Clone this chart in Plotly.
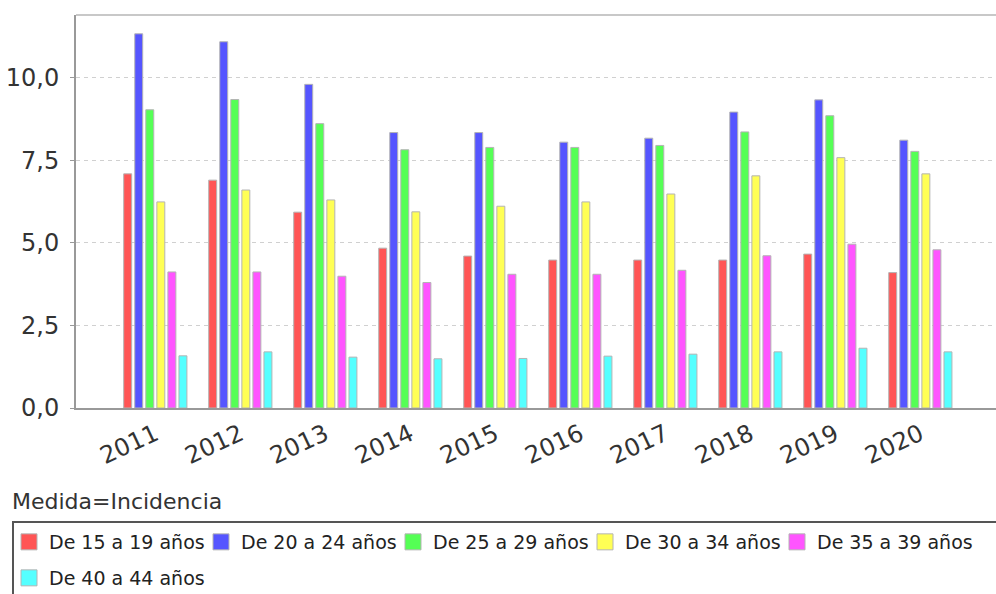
import plotly.graph_objects as go

years = ["2011", "2012", "2013", "2014", "2015", "2016", "2017", "2018", "2019", "2020"]
series_names = ["De 15 a 19 años", "De 20 a 24 años", "De 25 a 29 años",
                "De 30 a 34 años", "De 35 a 39 años", "De 40 a 44 años"]
v15_19 = [7.09, 6.90, 5.93, 4.84, 4.60, 4.48, 4.48, 4.48, 4.66, 4.10]
v20_24 = [11.33, 11.09, 9.80, 8.34, 8.34, 8.05, 8.17, 8.96, 9.33, 8.11]
v25_29 = [9.03, 9.34, 8.61, 7.82, 7.89, 7.89, 7.95, 8.36, 8.85, 7.77]
v30_34 = [6.24, 6.60, 6.30, 5.94, 6.11, 6.24, 6.48, 7.03, 7.58, 7.09]
v35_39 = [4.12, 4.12, 3.99, 3.80, 4.05, 4.05, 4.17, 4.61, 4.96, 4.79]
v40_44 = [1.58, 1.70, 1.54, 1.49, 1.50, 1.57, 1.63, 1.70, 1.81, 1.70]
y_ticks = [0, 2.5, 5, 7.5, 10]
legend_title = "Medida=Incidencia"

colors = ["#FF5555", "#5555FF", "#55FF55", "#FFFF55", "#FF55FF", "#55FFFF"]
all_values = [v15_19, v20_24, v25_29, v30_34, v35_39, v40_44]

W, H = 996, 594
L, R, T, B = 76, 0, 15, 186
pw = W - L - R
ph = H - T - B

def px_x(px):
    return (px - L) / pw

def px_y(py):
    return (H - B - py) / ph

font_family = "DejaVu Sans"

# legend item positions (swatch centre x, row centre y) in pixels
legend_pos = [(31, 542), (223, 542), (415, 542), (607, 542), (799, 542), (31, 578)]

fig = go.Figure()
for i, (name, vals, col) in enumerate(zip(series_names, all_values, colors)):
    fig.add_trace(go.Bar(
        x=years, y=vals, name=name, showlegend=False,
        marker=dict(color=col, line=dict(color="#b4b4b4", width=1)),
    ))

legends = {}
for i, (name, col) in enumerate(zip(series_names, colors)):
    key = "legend" if i == 0 else f"legend{i + 1}"
    fig.add_trace(go.Scatter(
        x=[None], y=[None], name=name, mode="markers",
        marker=dict(symbol="square", size=16, color=col,
                    line=dict(color="#b4b4b4", width=1)),
        legend=key, showlegend=True, hoverinfo="skip",
    ))
    cx, cy = legend_pos[i]
    legends[key] = dict(
        orientation="h", xanchor="left", yanchor="middle",
        x=px_x(cx - 22), y=px_y(cy),
        font=dict(family=font_family, size=19, color="#222"),
        bgcolor="rgba(0,0,0,0)", borderwidth=0,
        itemsizing="trace", itemclick=False, itemdoubleclick=False,
    )

fig.update_layout(
    width=W, height=H,
    margin=dict(l=L, r=R, t=T, b=B, autoexpand=False),
    paper_bgcolor="white", plot_bgcolor="white",
    separators=",.",
    barmode="group", bargap=0.22, bargroupgap=0.28,
    showlegend=True,
    xaxis=dict(
        type="category", range=[-0.933, 9.89],
        showgrid=False, showline=True, linecolor="#999999", linewidth=2,
        ticks="", tickangle=-25, ticklabelstandoff=1,
        tickfont=dict(family=font_family, size=24, color="#333"),
        zeroline=False,
    ),
    yaxis=dict(
        range=[0, 11.9], tickvals=y_ticks, tickformat=".1f",
        showgrid=True, gridcolor="#d0d0d0", griddash="4px,4px", gridwidth=1,
        showline=True, linecolor="#999999", linewidth=2,
        ticks="outside", ticklen=4, tickcolor="#999999",
        ticklabelstandoff=6,
        tickfont=dict(family=font_family, size=24, color="#333"),
        zeroline=False,
    ),
    annotations=[dict(
        text=legend_title, xref="paper", yref="paper",
        x=px_x(10), y=px_y(501), xanchor="left", yanchor="middle",
        showarrow=False, font=dict(family=font_family, size=22, color="#333"),
    )],
    shapes=[
        dict(type="line", xref="paper", yref="paper",
             x0=0, x1=1.01, y0=1, y1=1, line=dict(color="#c8c8c8", width=2)),
        dict(type="rect", xref="paper", yref="paper",
             x0=px_x(13), x1=px_x(1010), y0=px_y(522), y1=px_y(620),
             line=dict(color="#555555", width=2), fillcolor="rgba(0,0,0,0)"),
    ],
    **legends,
)

fig.write_html("out.html", config={"displayModeBar": False},
               post_script="document.body.style.margin='0';")
